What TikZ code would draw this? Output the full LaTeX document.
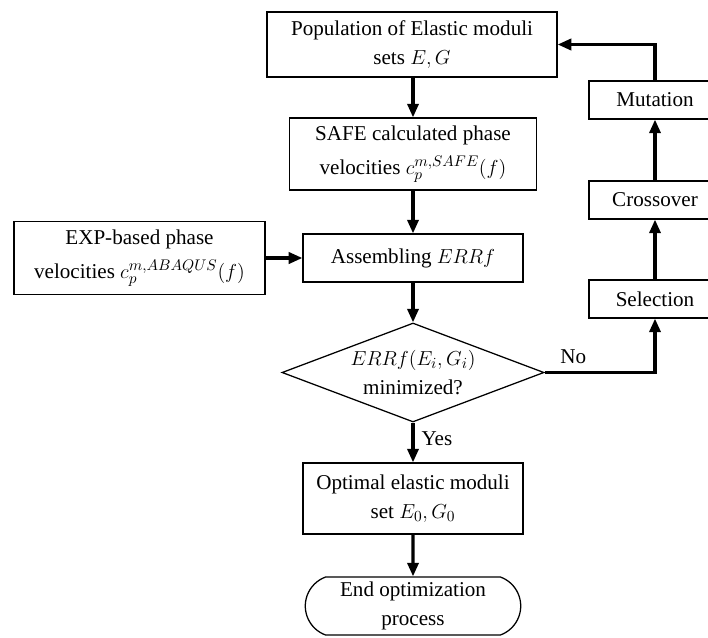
\documentclass[tikz,border=0pt]{standalone}
\usepackage{fontspec}
\setmainfont{Liberation Serif}
\usetikzlibrary{positioning}
\usetikzlibrary{shapes.geometric,shapes.misc,arrows.meta}

\tikzset{
  box/.style={draw,line width=0.9pt,align=center,inner sep=2pt},
  flow/.style={line width=2.2pt,-{Triangle[length=0.34cm,width=0.28cm]}},
}

\begin{document}
\fontsize{15}{21}\selectfont
\begin{tikzpicture}[x=0.025cm,y=-0.025cm]
 \useasboundingbox (0,0) rectangle (708,637);
 % main column
 \node[box,minimum width=7.25cm,minimum height=1.625cm] (pop) at (412,44.5) {Population of Elastic moduli\\sets $E,G$};
 \node[box,minimum width=6.175cm,minimum height=1.8cm] (safe) at (413,154) {SAFE calculated phase\\[3pt]velocities $c_p^{m,SAFE}(f)$};
 \node[box,minimum width=5.5cm,minimum height=1.2cm] (asm) at (413,258) {Assembling $ERRf$};
 \node[box,minimum width=6.275cm,minimum height=1.825cm] (exp) at (139.5,258) {EXP-based phase\\[3pt]velocities $c_p^{m,ABAQUS}(f)$};
 \node[box,shape=diamond,aspect=2.65,inner sep=0pt,minimum width=6.55cm,minimum height=2.475cm] (dec) at (413,372.5) {$ERRf(E_i,G_i)$\\minimized?};
 \node[box,minimum width=5.5cm,minimum height=1.775cm] (opt) at (413,498.5) {Optimal elastic moduli\\set $E_0,G_0$};
 \node[box,shape=rounded rectangle,rounded rectangle arc length=140,minimum width=5.525cm,minimum height=1.45cm] (fin) at (413,606) {End optimization\\process};
 % genetic loop
 \node[box,minimum width=3.3cm,minimum height=0.95cm] (sel) at (655,299) {Selection};
 \node[box,minimum width=3.3cm,minimum height=0.95cm] (cro) at (655,200) {Crossover};
 \node[box,minimum width=3.3cm,minimum height=0.95cm] (mut) at (655,100) {Mutation};

 \draw[flow] (pop.south -| safe) -- (safe);
 \draw[flow] (safe) -- (asm);
 \draw[flow] (exp) -- (asm);
 \draw[flow] (asm) -- (dec);
 \draw[flow] (dec.south) -- node[right,pos=0.4]{Yes} (opt.north);
 \draw[flow] (opt) -- (fin);
 \draw[flow] (dec.east) -| node[above,pos=0.13]{No} (sel.south);
 \draw[flow] (sel) -- (cro);
 \draw[flow] (cro) -- (mut);
 \draw[flow] (mut.north) |- (pop.east);
\end{tikzpicture}
\end{document}
